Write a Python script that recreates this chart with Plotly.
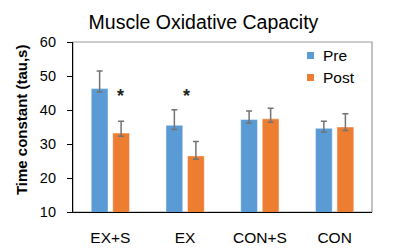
import plotly.graph_objects as go

categories = ["EX+S", "EX", "CON+S", "CON"]
pre_values = [46.3, 35.5, 37.2, 34.6]
post_values = [33.2, 26.5, 37.4, 35.0]
pre_err_plus = [5.2, 4.6, 2.5, 2.1]
pre_err_minus = [1.0, 1.2, 1.1, 1.1]
post_err_plus = [3.5, 4.2, 3.1, 3.9]
post_err_minus = [0.9, 1.0, 1.0, 1.0]
sig_categories = ["EX+S", "EX"]
sig_y = [44.0, 44.0]
sig_xshift = [10.5, 1]
y_ticks = [10, 20, 30, 40, 50, 60]
series_names = ["Pre", "Post"]

BLUE = "#5B9BD5"
ORANGE = "#ED7D31"
ERR = "#737373"
FONT = "Liberation Sans, Arial, sans-serif"

fig = go.Figure()
fig.add_trace(go.Bar(
    x=categories, y=pre_values, name=series_names[0], showlegend=False,
    marker=dict(color=BLUE, line=dict(color="rgba(255,255,255,0.45)", width=1)),
    error_y=dict(type="data", symmetric=False, array=pre_err_plus, arrayminus=pre_err_minus,
                 color=ERR, thickness=1.5, width=3),
))
fig.add_trace(go.Bar(
    x=categories, y=post_values, name=series_names[1], showlegend=False,
    marker=dict(color=ORANGE, line=dict(color="rgba(255,255,255,0.45)", width=1)),
    error_y=dict(type="data", symmetric=False, array=post_err_plus, arrayminus=post_err_minus,
                 color=ERR, thickness=1.5, width=3),
))

for c, yv, xs in zip(sig_categories, sig_y, sig_xshift):
    fig.add_annotation(x=c, y=yv, text="<b>*</b>", showarrow=False, xshift=xs,
                       font=dict(family=FONT, size=18, color="#222"))

# legend key (square + label) drawn as annotations for exact placement
PW, PH = 298.4, 170.6
for i, (nm, col) in enumerate(zip(series_names, [BLUE, ORANGE])):
    yc = 1 - (56 + 22 * i - 42) / PH
    fig.add_annotation(xref="paper", yref="paper", x=(310 - 73) / PW, y=yc,
                       text="", width=7, height=7, bgcolor=col, showarrow=False,
                       xanchor="center", yanchor="middle", borderpad=0, borderwidth=0)
    fig.add_annotation(xref="paper", yref="paper", x=(321 - 73) / PW, y=yc,
                       text=nm, showarrow=False, xanchor="left", yanchor="middle",
                       font=dict(family=FONT, size=15.5, color="black"))

fig.add_annotation(xref="paper", yref="paper", x=(21.5 - 73) / PW, y=1 - (120 - 42) / PH,
                   xanchor="center", yanchor="middle",
                   text="<b>Time constant (tau,s)</b>", textangle=-90, showarrow=False,
                   font=dict(family=FONT, size=15, color="black"))

fig.add_shape(type="rect", xref="paper", yref="paper", x0=0, y0=0, x1=1, y1=1,
              line=dict(color="#9A9A9A", width=1.2), layer="below")

fig.update_layout(
    width=400, height=250,
    margin=dict(l=73, r=28, t=42, b=38),
    paper_bgcolor="white", plot_bgcolor="white",
    barmode="group", bargap=0.424, bargroupgap=0.22,
    showlegend=False,
    font=dict(family=FONT, size=14, color="black"),
    title=dict(text="Muscle Oxidative Capacity", x=203.5/400, xanchor="center",
               xref="container", yref="container", y=1-22/250, yanchor="middle",
               font=dict(family=FONT, size=19.5, color="black")),
    xaxis=dict(showline=True, linecolor="black", linewidth=1.2, ticks="",
               showgrid=False, ticklabelstandoff=11, automargin=False,
               tickfont=dict(family=FONT, size=15.5, color="black")),
    yaxis=dict(range=[10, 60], tickvals=y_ticks, showline=True, linecolor="black",
               linewidth=1.2, ticks="outside", ticklen=5, tickcolor="black",
               showgrid=False, zeroline=False, ticklabelstandoff=8, automargin=False,
               tickfont=dict(family=FONT, size=14.5, color="black")),
)

fig.write_html("out.html", config={"displayModeBar": False},
               post_script="document.body.style.margin='0';")
